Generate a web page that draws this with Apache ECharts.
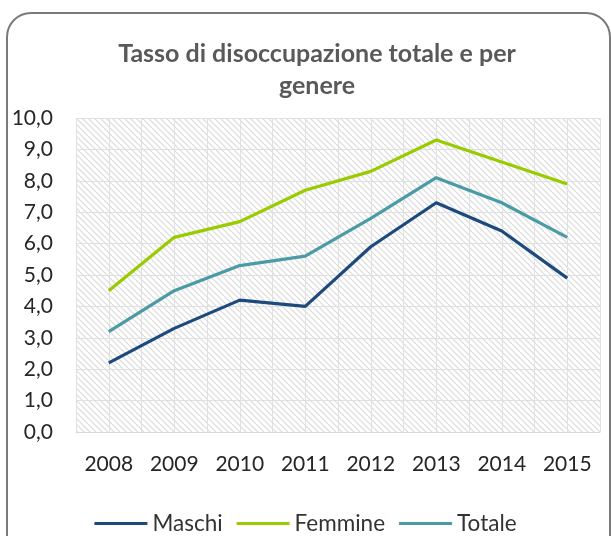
<!DOCTYPE html>
<html lang="it">
<head>
<meta charset="UTF-8">
<title>Tasso di disoccupazione</title>
<script src="https://cdn.jsdelivr.net/npm/echarts@6/dist/echarts.min.js"></script>
<style>
  html, body { margin: 0; padding: 0; background: #fff; }
  #chart { width: 611px; height: 536px; }
</style>
</head>
<body>
<div id="chart"></div>
<script>
const anni = ['2008', '2009', '2010', '2011', '2012', '2013', '2014', '2015'];
const maschi = [2.2, 3.3, 4.2, 4.0, 5.9, 7.3, 6.4, 4.9];
const femmine = [4.5, 6.2, 6.7, 7.7, 8.3, 9.3, 8.6, 7.9];
const totale = [3.2, 4.5, 5.3, 5.6, 6.8, 8.1, 7.3, 6.2];

// tratteggio diagonale dello sfondo
function tratteggio() {
    const c = document.createElement('canvas');
    c.width = 6; c.height = 6;
    const ctx = c.getContext('2d');
    ctx.strokeStyle = '#dadada';
    ctx.lineWidth = 1.2;
    ctx.beginPath();
    ctx.moveTo(-1, -1); ctx.lineTo(7, 7);
    ctx.moveTo(-4, 2); ctx.lineTo(4, 10);
    ctx.moveTo(2, -4); ctx.lineTo(10, 4);
    ctx.stroke();
    return c;
}

const chart = echarts.init(document.getElementById('chart'));
const font = 'Lato, "Open Sans", sans-serif';

chart.setOption({
    animation: false,
    textStyle: { fontFamily: font },
    title: {
        text: 'Tasso di disoccupazione totale e per\ngenere',
        left: 312, top: 33, textAlign: 'center',
        textStyle: { fontSize: 25, fontWeight: 'bold', color: '#595959', lineHeight: 32, fontFamily: font }
    },
    graphic: [{
        type: 'rect', silent: true, z: -1,
        shape: { x: 7, y: 13, width: 603, height: 560, r: 24 },
        style: { fill: 'none', stroke: '#7a7a7a', lineWidth: 2 }
    }],
    grid: {
        left: 76, right: 11, top: 118, bottom: 104,
        show: true, borderWidth: 0,
        backgroundColor: { image: tratteggio(), repeat: 'repeat' }
    },
    legend: {
        top: 507, left: 'center', icon: 'rect',
        itemWidth: 53, itemHeight: 3, itemGap: 14,
        textStyle: { fontSize: 22.5, color: '#333333', fontFamily: font },
        data: ['Maschi', 'Femmine', 'Totale']
    },
    xAxis: [{
        type: 'category', data: anni, boundaryGap: true,
        axisLine: { lineStyle: { color: '#d9d9d9' } },
        axisTick: { show: false },
        axisLabel: { fontSize: 21, color: '#262626', margin: 22 },
        splitLine: { show: true, lineStyle: { color: '#e0e0e0' } }
    }, {
        type: 'value', min: 0, max: 16, interval: 1, position: 'top',
        axisLine: { show: false }, axisTick: { show: false }, axisLabel: { show: false },
        splitLine: { show: true, lineStyle: { color: '#e0e0e0' } }
    }],
    yAxis: {
        type: 'value', min: 0, max: 10, interval: 1,
        axisLine: { show: false }, axisTick: { show: false },
        axisLabel: {
            fontSize: 21, color: '#262626', margin: 23,
            formatter: v => v.toFixed(1).replace('.', ',')
        },
        splitLine: { lineStyle: { color: '#e0e0e0' } }
    },
    series: [
        { name: 'Maschi', type: 'line', data: maschi, symbol: 'none', lineStyle: { width: 3.2, color: '#1c4a7c' }, itemStyle: { color: '#1c4a7c' } },
        { name: 'Femmine', type: 'line', data: femmine, symbol: 'none', lineStyle: { width: 3.2, color: '#9acb00' }, itemStyle: { color: '#9acb00' } },
        { name: 'Totale', type: 'line', data: totale, symbol: 'none', lineStyle: { width: 3.2, color: '#4b9ba6' }, itemStyle: { color: '#4b9ba6' } }
    ]
});
</script>
</body>
</html>
